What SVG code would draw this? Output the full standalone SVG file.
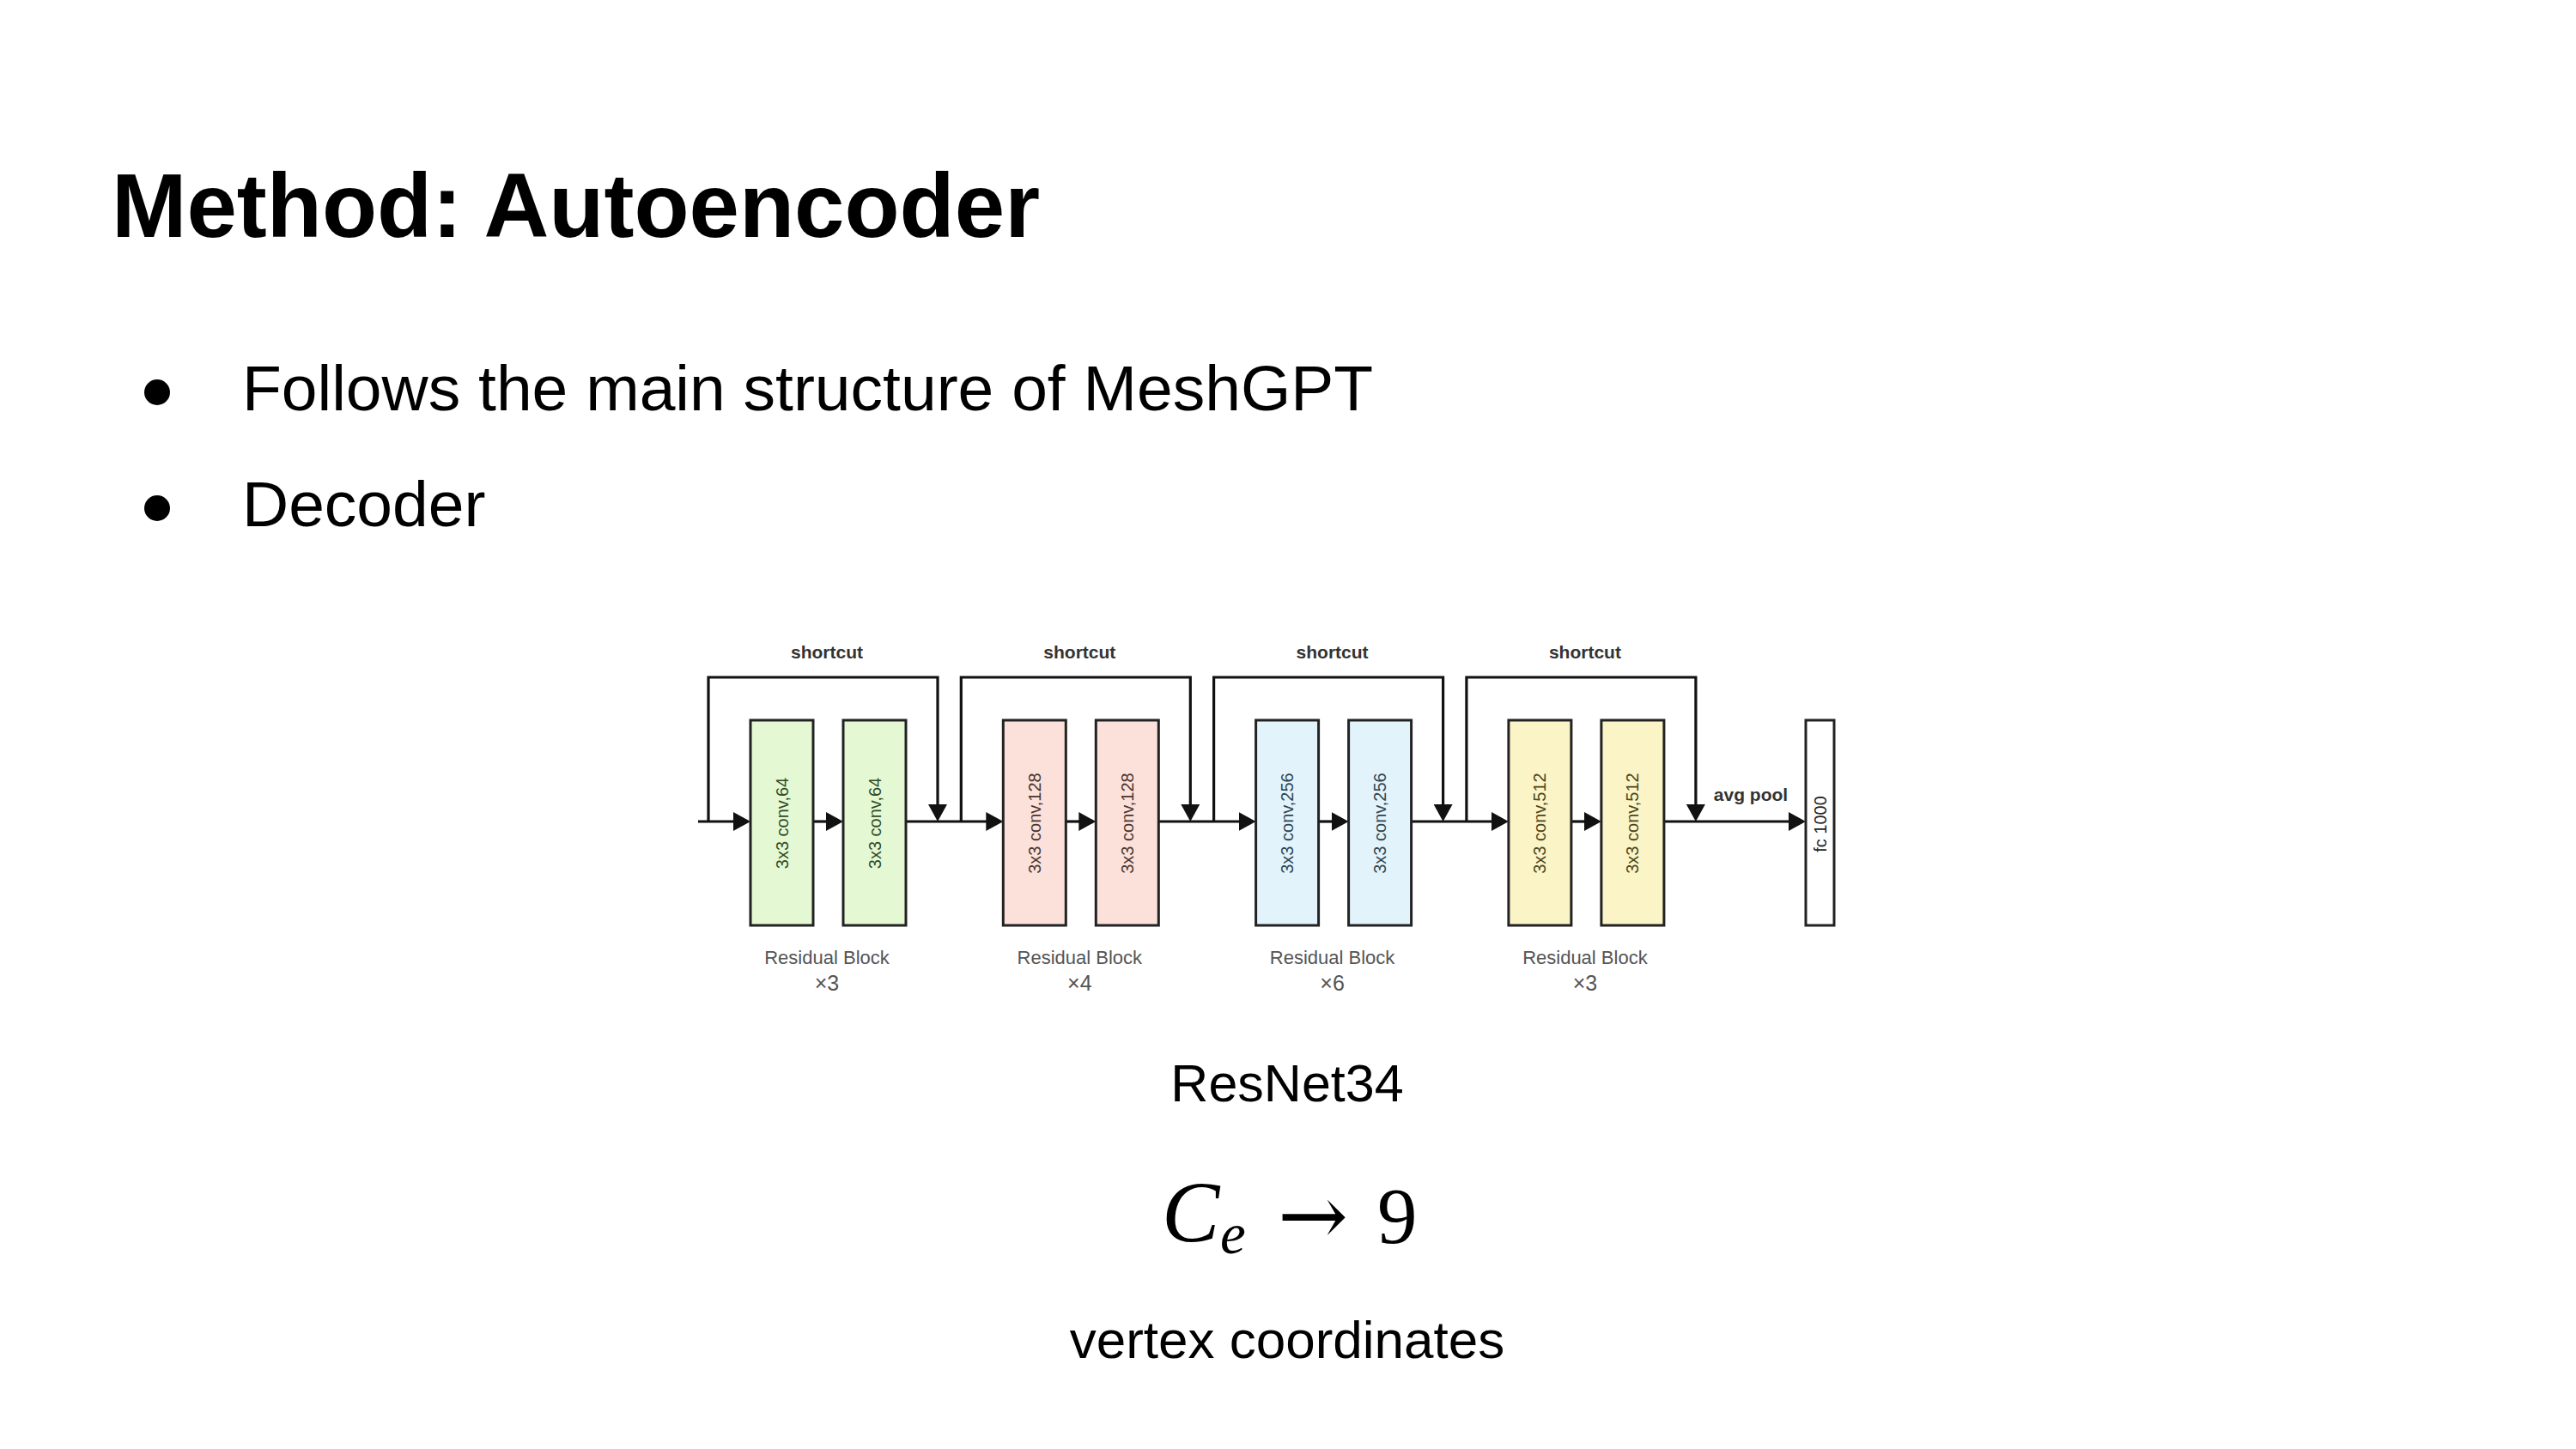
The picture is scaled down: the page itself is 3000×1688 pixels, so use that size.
<svg xmlns="http://www.w3.org/2000/svg" width="3000" height="1688" viewBox="0 0 3000 1688">
<defs>
<marker id="ah" markerUnits="userSpaceOnUse" markerWidth="20" markerHeight="22" refX="14" refY="11" orient="auto">
<path d="M0,0 L20,11 L0,22 z" fill="#111"/>
</marker>
<style>
.t{font-family:"Liberation Sans",Arial,sans-serif;fill:#000}
.ln{fill:none;stroke:#111;stroke-width:3.2}
.box{stroke:#222;stroke-width:3}
.g{fill:#e4f8d4}.p{fill:#fbe1d9}.b{fill:#e2f3fb}.y{fill:#fbf4c6}.w{fill:#fff}
.bt{font-family:"Liberation Sans",Arial,sans-serif;font-size:20px;text-anchor:middle;dominant-baseline:central}
.sc{font-family:"Liberation Sans",Arial,sans-serif;font-size:21px;font-weight:bold;fill:#333;text-anchor:middle}
.rb{font-family:"Liberation Sans",Arial,sans-serif;font-size:22px;fill:#555;text-anchor:middle}
.rx{font-family:"Liberation Sans",Arial,sans-serif;font-size:25px;fill:#555;text-anchor:middle}
</style>
</defs>
<rect width="3000" height="1688" fill="#fff"/>

<g id="title">
<text class="t" x="130" y="276" font-size="105" font-weight="bold">Method: Autoencoder</text>
</g>
<g id="bullets">
<circle cx="183" cy="457" r="15" fill="#000"/>
<text class="t" x="282" y="478" font-size="75">Follows the main structure of MeshGPT</text>
<circle cx="183" cy="592" r="15" fill="#000"/>
<text class="t" x="282" y="613" font-size="75">Decoder</text>
</g>

<g id="connectors">
<path class="ln" d="M813 957 H868" marker-end="url(#ah)"/>
<path class="ln" d="M947 957 H976" marker-end="url(#ah)"/>
<path class="ln" d="M1055 957 H1162.3" marker-end="url(#ah)"/>
<path class="ln" d="M1241.3 957 H1270.3" marker-end="url(#ah)"/>
<path class="ln" d="M1349.3 957 H1456.6" marker-end="url(#ah)"/>
<path class="ln" d="M1535.6 957 H1564.6" marker-end="url(#ah)"/>
<path class="ln" d="M1643.6 957 H1750.9" marker-end="url(#ah)"/>
<path class="ln" d="M1829.9 957 H1858.9" marker-end="url(#ah)"/>
<path class="ln" d="M1937.9 957 H2097" marker-end="url(#ah)"/>
<path class="ln" d="M825 957 V789 H1092 V951" marker-end="url(#ah)"/>
<path class="ln" d="M1119.3 957 V789 H1386.3 V951" marker-end="url(#ah)"/>
<path class="ln" d="M1413.6 957 V789 H1680.6 V951" marker-end="url(#ah)"/>
<path class="ln" d="M1707.9 957 V789 H1974.9 V951" marker-end="url(#ah)"/>
</g>

<g id="stage1">
<rect class="box g" x="874" y="839" width="73" height="239"/>
<text class="bt" fill="#2f4a25" transform="translate(910.5 959) rotate(-90)">3x3 conv,64</text>
<rect class="box g" x="982" y="839" width="73" height="239"/>
<text class="bt" fill="#2f4a25" transform="translate(1018.5 959) rotate(-90)">3x3 conv,64</text>
<text class="sc" x="963" y="767">shortcut</text>
<text class="rb" x="963" y="1123">Residual Block</text>
<text class="rx" x="963" y="1154">×3</text>
</g>

<g id="stage2">
<rect class="box p" x="1168.3" y="839" width="73" height="239"/>
<text class="bt" fill="#4a3530" transform="translate(1204.8 959) rotate(-90)">3x3 conv,128</text>
<rect class="box p" x="1276.3" y="839" width="73" height="239"/>
<text class="bt" fill="#4a3530" transform="translate(1312.8 959) rotate(-90)">3x3 conv,128</text>
<text class="sc" x="1257.3" y="767">shortcut</text>
<text class="rb" x="1257.3" y="1123">Residual Block</text>
<text class="rx" x="1257.3" y="1154">×4</text>
</g>

<g id="stage3">
<rect class="box b" x="1462.6" y="839" width="73" height="239"/>
<text class="bt" fill="#2f4550" transform="translate(1499.1 959) rotate(-90)">3x3 conv,256</text>
<rect class="box b" x="1570.6" y="839" width="73" height="239"/>
<text class="bt" fill="#2f4550" transform="translate(1607.1 959) rotate(-90)">3x3 conv,256</text>
<text class="sc" x="1551.6" y="767">shortcut</text>
<text class="rb" x="1551.6" y="1123">Residual Block</text>
<text class="rx" x="1551.6" y="1154">×6</text>
</g>

<g id="stage4">
<rect class="box y" x="1756.9" y="839" width="73" height="239"/>
<text class="bt" fill="#4a4520" transform="translate(1793.4 959) rotate(-90)">3x3 conv,512</text>
<rect class="box y" x="1864.9" y="839" width="73" height="239"/>
<text class="bt" fill="#4a4520" transform="translate(1901.4 959) rotate(-90)">3x3 conv,512</text>
<text class="sc" x="1845.9" y="767">shortcut</text>
<text class="rb" x="1845.9" y="1123">Residual Block</text>
<text class="rx" x="1845.9" y="1154">×3</text>
</g>

<g id="fc">
<text class="sc" x="2039" y="933" font-size="20">avg pool</text>
<rect class="box w" x="2103" y="839" width="33" height="239"/>
<text class="bt" fill="#222" transform="translate(2119.5 960) rotate(-90)">fc  1000</text>
</g>

<g id="caption">
<text class="t" x="1499" y="1283" font-size="61" text-anchor="middle">ResNet34</text>
<text x="1353" y="1447" font-family="'Liberation Serif','Times New Roman',serif" font-style="italic" font-size="101">C</text>
<text x="1421" y="1460" font-family="'Liberation Serif','Times New Roman',serif" font-style="italic" font-size="67">e</text>
<text x="1488" y="1450" font-family="'DejaVu Serif',serif" font-size="98">→</text>
<text x="1604" y="1448" font-family="'Liberation Serif','Times New Roman',serif" font-size="93">9</text>
<text class="t" x="1499" y="1582" font-size="62" text-anchor="middle">vertex coordinates</text>
</g>
</svg>
